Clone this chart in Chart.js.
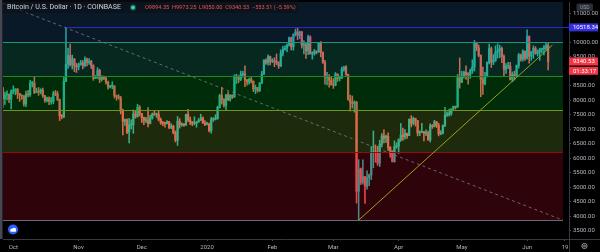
<!DOCTYPE html>
<html>
<head>
<meta charset="utf-8">
<title>Bitcoin / U.S. Dollar 1D COINBASE</title>
<script src="https://cdn.jsdelivr.net/npm/chart.js@4.4.1/dist/chart.umd.min.js"></script>
<style>
  html, body { margin: 0; padding: 0; background: #000; }
  #wrap { width: 600px; height: 252px; }
</style>
</head>
<body>
<div id="wrap"><canvas id="btcChart" width="600" height="252"></canvas></div>
<script>
"use strict";

// first candle is 26 Sep 2019, day numbers count from 1 Oct 2019
const firstDay = -5;

const opens = [
  8430, 8060, 8190, 8200, 8040,
  // Oct
  8310, 8340, 8390, 8240, 8160, 8150, 7870, 8210, 8190, 8590, 8590, 8270, 8300, 8280, 8360, 8160,
  7990, 8080, 7960, 7960, 8230, 8220, 8030, 7470, 7430, 8660, 9250, 9550, 9230, 9430, 9180,
  // Nov
  9150, 9240, 9300, 9200, 9410, 9310, 9340, 9200, 8760, 8800, 9030, 8720, 8810, 8760, 8630,
  8460, 8490, 8500, 8170, 8120, 8080, 7620, 7280, 7330, 6900, 7150, 7160, 7530, 7430, 7760,
  // Dec
  7550, 7400, 7300, 7300, 7200, 7390, 7530, 7500, 7520, 7340, 7220, 7200, 7190, 7260, 7060, 7110,
  6880, 6620, 7280, 7150, 7190, 7140, 7510, 7320, 7250, 7200, 7200, 7250, 7310, 7390, 7220,
  // Jan
  7170, 7180, 6950, 7340, 7350, 7360, 7760, 8160, 8040, 7820, 8190, 8020, 8180, 8110, 8810, 8820,
  8720, 8900, 8910, 8700, 8630, 8730, 8660, 8390, 8440, 8330, 8600, 8900, 9390, 9290, 9510,
  // Feb
  9340, 9380, 9330, 9290, 9180, 9620, 9750, 9800, 9900, 10160, 9850, 10270, 10360, 10240, 10360,
  9900, 9930, 9710, 10190, 9600, 9610, 9690, 9670, 9970, 9660, 9310, 8790, 8790, 8690,
  // Mar
  8530, 8520, 8910, 8760, 8760, 9070, 9150, 8900, 8030, 7930, 7890, 7940, 4860, 5630, 5170, 5360,
  5030, 5330, 5420, 6190, 6210, 6190, 5830, 6480, 6770, 6690, 6760, 6380, 6250, 5880, 6400,
  // Apr
  6420, 6640, 6800, 6740, 6860, 6780, 7340, 7200, 7370, 7300, 6870, 6890, 6920, 6860, 6870,
  6630, 7120, 7100, 7260, 7130, 6840, 6860, 7130, 7490, 7510, 7550, 7700, 7790, 7760, 8780,
  // May
  8620, 8830, 8970, 8890, 8880, 9020, 9150, 9980, 9810, 9550, 8720, 8570, 8820, 9310, 9790, 9310,
  9380, 9670, 9730, 9790, 9510, 9070, 9170, 9180, 8720, 8900, 8840, 9200, 9570, 9420, 9700,
  // Jun
  9450, 10200, 9520, 9670, 9790, 9620, 9670, 9760, 9780, 9790, 9894.35
];

const highs = [
  8450, 8280, 8330, 8220, 8360,
  8500, 8400, 8400, 8240, 8180, 8160, 8320, 8340, 8690, 8650, 8810, 8420, 8440, 8400, 8420, 8170,
  8110, 8120, 8100, 8310, 8340, 8310, 8040, 7510, 8800, 10518, 9800, 9940, 9560, 9440, 9280,
  9290, 9380, 9370, 9500, 9460, 9440, 9380, 9230, 8860, 9130, 9070, 8850, 8840, 8790, 8660,
  8520, 8640, 8500, 8180, 8190, 8140, 7700, 7350, 7360, 7380, 7330, 7670, 7640, 7860, 7820,
  7550, 7420, 7410, 7750, 7490, 7560, 7620, 7560, 7640, 7390, 7270, 7250, 7300, 7270, 7190, 7140,
  6940, 7440, 7370, 7220, 7190, 7520, 7690, 7420, 7270, 7430, 7270, 7370, 7520, 7430, 7300,
  7250, 7210, 7410, 7400, 7500, 7800, 8210, 8450, 8050, 8200, 8290, 8190, 8190, 8880, 8900, 8850,
  9010, 9000, 9190, 8720, 8770, 8790, 8670, 8520, 8440, 8610, 9000, 9400, 9430, 9570, 9530,
  9440, 9470, 9600, 9340, 9740, 9860, 9880, 9950, 10180, 10180, 10300, 10460, 10500, 10390, 10380,
  10060, 9970, 10250, 10230, 9680, 9760, 9700, 9980, 10030, 9670, 9380, 8970, 8890, 8800,
  8750, 8960, 8910, 8840, 9150, 9170, 9200, 8900, 8180, 8150, 7980, 7960, 5950, 5660, 5940, 5370,
  5560, 5450, 6400, 6940, 6460, 6410, 6620, 6850, 6980, 6800, 6880, 6400, 6250, 6600, 6530,
  6670, 7200, 7040, 6990, 6870, 7360, 7470, 7420, 7380, 7300, 6950, 7200, 6920, 6980, 6940,
  7190, 7160, 7310, 7270, 7210, 6950, 7150, 7760, 7600, 7700, 7710, 7800, 7800, 8890, 9460,
  9000, 9010, 9190, 8960, 9080, 9400, 10070, 9990, 9910, 9570, 9150, 8970, 9330, 9940, 9840, 9580,
  9880, 9950, 9900, 9840, 9570, 9270, 9310, 9310, 8980, 9010, 9220, 9620, 9600, 9740, 9700,
  10430, 10230, 9690, 9880, 9850, 9740, 9800, 9800, 9890, 9990, 9973.25
];

const lows = [
  7750, 7860, 8010, 7920, 7700,
  8220, 8190, 8060, 7960, 8030, 7800, 7780, 8120, 8130, 8460, 8230, 8270, 8170, 8220, 8100, 7930,
  7940, 7850, 7870, 7880, 8160, 7990, 7300, 7360, 7400, 8640, 9100, 9180, 9080, 8990, 8960,
  9050, 9210, 9080, 9150, 9190, 9240, 9100, 8690, 8750, 8750, 8610, 8660, 8710, 8560, 8380,
  8430, 8400, 8080, 8000, 8040, 7530, 6800, 7130, 6850, 6530, 7010, 6860, 7380, 7420, 7460,
  7230, 7160, 7230, 7080, 7180, 7350, 7480, 7410, 7290, 7170, 7120, 7070, 7180, 7020, 7020, 6840,
  6560, 6440, 7040, 7100, 7100, 7130, 7260, 7160, 7120, 7150, 7070, 7240, 7300, 7200, 7120,
  7150, 6910, 6860, 7270, 7320, 7350, 7730, 7870, 7760, 7670, 7990, 7970, 8060, 8100, 8580, 8610,
  8680, 8800, 8470, 8520, 8560, 8600, 8300, 8230, 8280, 8300, 8570, 8900, 9240, 9210, 9220,
  9300, 9160, 9230, 9100, 9160, 9530, 9730, 9680, 9880, 9740, 9730, 10220, 10090, 10130, 9800,
  9600, 9450, 9580, 9600, 9420, 9560, 9600, 9650, 9500, 9270, 8560, 8530, 8450, 8530,
  8410, 8500, 8650, 8670, 8760, 9010, 8860, 8000, 7630, 7730, 7590, 4450, 3860, 5090, 5100, 4440,
  4930, 5050, 5260, 5670, 5860, 5750, 5710, 6390, 6530, 6540, 6270, 6030, 5870, 5860, 6340,
  6160, 6580, 6610, 6660, 6680, 6780, 7080, 7150, 7110, 6770, 6780, 6880, 6600, 6780, 6620,
  6560, 7030, 7080, 7060, 6770, 6810, 6840, 7090, 7440, 7450, 7480, 7660, 7700, 7760, 8420,
  8620, 8760, 8720, 8560, 8760, 8930, 9010, 9710, 9500, 8120, 8200, 8530, 8810, 9260, 9130, 9230,
  9340, 9460, 9470, 9300, 8820, 8930, 9090, 8700, 8640, 8700, 8820, 9110, 9350, 9350, 9380,
  9420, 9280, 9380, 9450, 9590, 9530, 9380, 9640, 9570, 9720, 9050
];

const closes = [
  8060, 8190, 8200, 8040, 8310,
  8340, 8390, 8240, 8160, 8150, 7870, 8210, 8190, 8590, 8590, 8270, 8300, 8280, 8360, 8160, 7990,
  8080, 7960, 7960, 8230, 8220, 8030, 7470, 7430, 8660, 9250, 9550, 9230, 9430, 9180, 9150,
  9240, 9300, 9200, 9410, 9310, 9340, 9200, 8760, 8800, 9030, 8720, 8810, 8760, 8630, 8460,
  8490, 8500, 8170, 8120, 8080, 7620, 7280, 7330, 6900, 7150, 7160, 7530, 7430, 7760, 7550,
  7400, 7300, 7300, 7200, 7390, 7530, 7500, 7520, 7340, 7220, 7200, 7190, 7260, 7060, 7110, 6880,
  6620, 7280, 7150, 7190, 7140, 7510, 7320, 7250, 7200, 7200, 7250, 7310, 7390, 7220, 7170,
  7180, 6950, 7340, 7350, 7360, 7760, 8160, 8040, 7820, 8190, 8020, 8180, 8110, 8810, 8820, 8720,
  8900, 8910, 8700, 8630, 8730, 8660, 8390, 8440, 8330, 8600, 8900, 9390, 9290, 9510, 9340,
  9380, 9330, 9290, 9180, 9620, 9750, 9800, 9900, 10160, 9850, 10270, 10360, 10240, 10360, 9900,
  9930, 9710, 10190, 9600, 9610, 9690, 9670, 9970, 9660, 9310, 8790, 8790, 8690, 8530,
  8520, 8910, 8760, 8760, 9070, 9150, 8900, 8030, 7930, 7890, 7940, 4860, 5630, 5170, 5360, 5030,
  5330, 5420, 6190, 6210, 6190, 5830, 6480, 6770, 6690, 6760, 6380, 6250, 5880, 6400, 6420,
  6640, 6800, 6740, 6860, 6780, 7340, 7200, 7370, 7300, 6870, 6890, 6920, 6860, 6870, 6630,
  7120, 7100, 7260, 7130, 6840, 6860, 7130, 7490, 7510, 7550, 7700, 7790, 7760, 8780, 8620,
  8830, 8970, 8890, 8880, 9020, 9150, 9980, 9810, 9550, 8720, 8570, 8820, 9310, 9790, 9310, 9380,
  9670, 9730, 9790, 9510, 9070, 9170, 9180, 8720, 8900, 8840, 9200, 9570, 9420, 9700, 9450,
  10200, 9520, 9670, 9790, 9620, 9670, 9760, 9780, 9790, 9894.04, 9340.53
];

// axis ticks
const timeTickDays = [0, 31, 61, 92, 123, 152, 183, 213, 244, 262];
const timeTickLabels = ['Oct', 'Nov', 'Dec', '2020', 'Feb', 'Mar', 'Apr', 'May', 'Jun', '19'];
const priceTicks = [3500, 4000, 4500, 5000, 5500, 6000, 6500, 7000, 7500, 8000, 8500, 9000, 9500, 10000, 10500, 11000];

// drawn rectangles (price bands), ending on 18 Jun
const zoneTops = [11420, 10000, 8825, 7660, 6200];
const zoneBottoms = [10000, 8825, 7660, 6200, 3860];
const zoneEndDay = 261;

// drawn lines [day, price]
const fanLine = [[-5, 11345], [261, 3860]];
const trendLine = [[164, 3860], [256, 9905]];
const resistance = [25, 10518.34];
const countdown = '01:33:17';

const zoneFills = ['rgba(50,125,200,0.2)', 'rgba(30,200,150,0.2)', 'rgba(0,220,50,0.2)', 'rgba(150,210,60,0.2)', 'rgba(230,20,50,0.2)'];
const zoneEdges = ['#1d4e78', '#1a9678', '#1b8c22', '#6e961e', '#960a14'];
const UP = '#26a69a', DOWN = '#ef5350';

const days = closes.map((c, i) => i + firstDay);
const candleColors = closes.map((c, i) => c >= opens[i] ? UP : DOWN);

Chart.defaults.font.family = "Roboto, 'Liberation Sans', sans-serif";

function hLine(ctx, x1, x2, py, color) {
    const yy = Math.round(py) + 0.5;
    ctx.strokeStyle = color;
    ctx.beginPath();
    ctx.moveTo(x1, yy);
    ctx.lineTo(x2, yy);
    ctx.stroke();
}

function fitFont(ctx, text, width, maxSize) {
    ctx.font = '10px Roboto';
    const size = Math.min(maxSize, 10 * width / ctx.measureText(text).width);
    return size.toFixed(2) + 'px Roboto';
}

function axisBox(ctx, py, text, fill) {
    ctx.fillStyle = fill;
    ctx.fillRect(569, py - 4, 29, 8);
    ctx.fillStyle = '#ffffff';
    ctx.font = '6px Roboto';
    ctx.textAlign = 'left';
    ctx.textBaseline = 'middle';
    ctx.fillText(text, 573, py + 0.5);
}

const drawings = {
    id: 'drawings',
    afterDatasetsDraw(chart) {
        const ctx = chart.ctx, a = chart.chartArea;
        const x = chart.scales.x, y = chart.scales.y;
        ctx.save();
        ctx.beginPath();
        ctx.rect(a.left, a.top, a.right - a.left, a.bottom - a.top);
        ctx.clip();

        const xEnd = x.getPixelForValue(zoneEndDay);
        zoneTops.forEach((top, i) => {
            const y1 = y.getPixelForValue(top);
            const y2 = y.getPixelForValue(zoneBottoms[i]);
            ctx.fillStyle = zoneFills[i];
            ctx.fillRect(a.left, y1, xEnd - a.left, y2 - y1);
        });
        ctx.lineWidth = 1;
        zoneTops.forEach((top, i) => hLine(ctx, a.left, xEnd, y.getPixelForValue(top), zoneEdges[i]));
        hLine(ctx, a.left, xEnd, y.getPixelForValue(zoneBottoms[zoneBottoms.length - 1]), '#6a6a78');

        // dashed fan line
        ctx.setLineDash([3, 3]);
        ctx.strokeStyle = 'rgba(125,128,140,0.75)';
        ctx.beginPath();
        ctx.moveTo(x.getPixelForValue(fanLine[0][0]), y.getPixelForValue(fanLine[0][1]));
        ctx.lineTo(x.getPixelForValue(fanLine[1][0]), y.getPixelForValue(fanLine[1][1]));
        ctx.stroke();
        ctx.setLineDash([]);

        // rising trend line
        ctx.strokeStyle = '#98a11c';
        ctx.beginPath();
        ctx.moveTo(x.getPixelForValue(trendLine[0][0]), y.getPixelForValue(trendLine[0][1]));
        ctx.lineTo(x.getPixelForValue(trendLine[1][0]), y.getPixelForValue(trendLine[1][1]));
        ctx.stroke();

        // horizontal ray from the October high
        hLine(ctx, x.getPixelForValue(resistance[0]), a.right, y.getPixelForValue(resistance[1]), '#2a2ac8');
        ctx.restore();
    },
    afterDraw(chart) {
        const ctx = chart.ctx, a = chart.chartArea;
        const y = chart.scales.y;
        const n = closes.length;
        ctx.save();

        // left toolbar edge
        ctx.fillStyle = '#454852';
        ctx.fillRect(0, 0, 2.5, a.bottom);

        // header
        ctx.fillStyle = 'rgba(12,15,22,0.6)';
        ctx.fillRect(2.5, 0, 296, 13);
        const title = 'Bitcoin / U.S. Dollar · 1D · COINBASE';
        ctx.font = fitFont(ctx, title, 114, 8);
        ctx.fillStyle = '#d1d4dc';
        ctx.textAlign = 'left';
        ctx.textBaseline = 'middle';
        ctx.fillText(title, 7, 7.5);

        ctx.fillStyle = 'rgba(38,166,154,0.35)';
        ctx.beginPath(); ctx.arc(133, 7.5, 3.2, 0, Math.PI * 2); ctx.fill();
        ctx.fillStyle = '#2fd6a6';
        ctx.beginPath(); ctx.arc(133, 7.5, 1.9, 0, Math.PI * 2); ctx.fill();

        const chg = closes[n - 1] - closes[n - 2];
        const pct = chg / closes[n - 2] * 100;
        const fmt = v => (v < 0 ? '\u2212' : '') + Math.abs(v).toFixed(2);
        const ohlc = 'O' + opens[n - 1].toFixed(2) + '  H' + highs[n - 1].toFixed(2) + '  L' + lows[n - 1].toFixed(2) +
            '  C' + closes[n - 1].toFixed(2) + '  ' + fmt(chg) + ' (' + fmt(pct) + '%)';
        ctx.font = fitFont(ctx, ohlc, 151, 7);
        ctx.fillStyle = '#ef5350';
        ctx.fillText(ohlc, 145, 7.5);

        // right axis labels
        ctx.fillStyle = '#2a2e39';
        ctx.beginPath();
        ctx.roundRect(576.5, 3.5, 16.5, 7.5, 1.5);
        ctx.fill();
        ctx.fillStyle = '#9598a1';
        ctx.font = '5px Roboto';
        ctx.textAlign = 'center';
        ctx.fillText('USD', 584.7, 7.5);

        axisBox(ctx, y.getPixelForValue(resistance[1]), resistance[1].toFixed(2), '#3430dc');
        const py = y.getPixelForValue(closes[n - 1]);
        axisBox(ctx, py, closes[n - 1].toFixed(2), '#f23645');
        axisBox(ctx, py + 9.3, countdown, '#f23645');

        // bottom axis strip
        ctx.strokeStyle = '#363a45';
        ctx.lineWidth = 1;
        hLine(ctx, a.right, 600, a.bottom, '#363a45');
        ctx.beginPath();
        ctx.moveTo(569.5, a.bottom);
        ctx.lineTo(569.5, 252);
        ctx.stroke();

        // gear
        ctx.strokeStyle = '#9598a1';
        ctx.beginPath(); ctx.arc(584.5, 246, 2.6, 0, Math.PI * 2); ctx.stroke();
        ctx.beginPath(); ctx.arc(584.5, 246, 0.9, 0, Math.PI * 2); ctx.stroke();

        // logo
        ctx.fillStyle = '#2962ff';
        ctx.beginPath(); ctx.arc(13, 229.5, 5, 0, Math.PI * 2); ctx.fill();
        ctx.fillStyle = '#ffffff';
        ctx.beginPath();
        ctx.arc(12, 230, 1.6, 0, Math.PI * 2);
        ctx.arc(14.2, 229.6, 1.9, 0, Math.PI * 2);
        ctx.fill();
        ctx.fillRect(10.4, 230, 5.6, 1.6);
        ctx.restore();
    }
};

const ctx1 = document.getElementById('btcChart').getContext('2d');
const btcChart = new Chart(ctx1, {
    type: 'bar',
    data: {
        datasets: [{
            label: 'wicks',
            data: days.map((d, i) => ({ x: d, y: [lows[i], highs[i]] })),
            backgroundColor: candleColors,
            barThickness: 0.9,
            grouped: false,
            order: 2
        }, {
            label: 'bodies',
            data: days.map((d, i) => ({ x: d, y: [opens[i], closes[i]] })),
            backgroundColor: candleColors,
            barThickness: 1.6,
            minBarLength: 1,
            grouped: false,
            order: 1
        }]
    },
    options: {
        responsive: false,
        animation: false,
        layout: { padding: { left: 3, top: 0, right: 0, bottom: 0 } },
        plugins: {
            legend: { display: false },
            tooltip: { enabled: false }
        },
        scales: {
            x: {
                type: 'linear',
                min: -4.9,
                max: 263.9,
                offset: false,
                afterBuildTicks: s => { s.ticks = timeTickDays.map(v => ({ value: v })); },
                afterFit: s => { s.height = 13; },
                ticks: {
                    callback: (v, i) => timeTickLabels[i],
                    color: '#b2b5be',
                    font: { size: 6 },
                    padding: 3,
                    maxRotation: 0,
                    autoSkip: false
                },
                grid: { offset: false, drawOnChartArea: false, tickLength: 2, tickColor: '#4a4d57' },
                border: { color: '#363a45' }
            },
            y: {
                type: 'linear',
                position: 'right',
                min: 3209,
                max: 11394,
                afterBuildTicks: s => { s.ticks = priceTicks.map(v => ({ value: v })); },
                afterFit: s => { s.width = 31; },
                ticks: {
                    callback: v => v.toFixed(2),
                    color: '#b2b5be',
                    // tiny line height so the axis adds no top padding to the plot
                    font: { size: 6, lineHeight: 0.01 },
                    padding: 2
                },
                grid: { drawOnChartArea: false, tickLength: 2, tickColor: '#4a4d57' },
                border: { color: '#363a45' }
            }
        }
    },
    plugins: [drawings]
});
</script>
</body>
</html>
